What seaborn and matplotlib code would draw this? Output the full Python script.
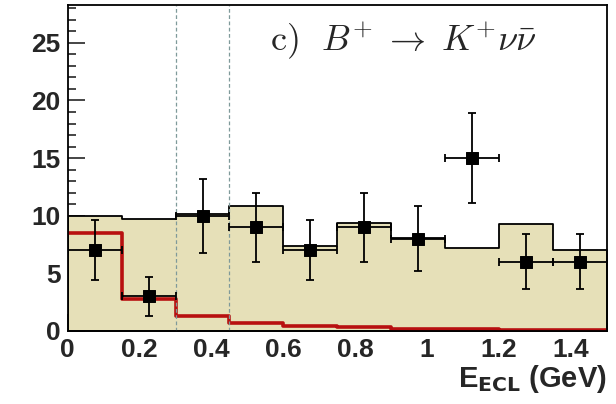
import numpy as np
import pandas as pd
import matplotlib
matplotlib.use("Agg")
import matplotlib.pyplot as plt
import seaborn as sns
from matplotlib.ticker import MultipleLocator

# E_ECL binning (GeV)
bin_edges = [0.0, 0.15, 0.30, 0.45, 0.60, 0.75, 0.90, 1.05, 1.20, 1.35, 1.50]
bin_centers = [0.075, 0.225, 0.375, 0.525, 0.675, 0.825, 0.975, 1.125, 1.275, 1.425]

# background expectation (filled histogram)
bkg_counts = [10.0, 9.7, 10.15, 10.8, 7.4, 9.4, 8.1, 7.2, 9.3, 7.05]
# signal shape (red line)
sig_counts = [8.5, 2.8, 1.3, 0.7, 0.4, 0.3, 0.2, 0.15, 0.1, 0.1]
# data
data_counts = [7, 3, 10, 9, 7, 9, 8, 15, 6, 6]
data_yerr = [2.6, 1.7, 3.2, 3.0, 2.6, 3.0, 2.8, 3.9, 2.4, 2.4]
data_xerr = [0.075] * 10

cut_lines = [0.30, 0.45]

df = pd.DataFrame({"x": bin_centers, "bkg": bkg_counts, "sig": sig_counts})

sns.set_style("ticks")
plt.rcParams["font.family"] = ["Liberation Sans", "DejaVu Sans"]
plt.rcParams["mathtext.fontset"] = "cm"

fig = plt.figure(figsize=(6.16, 4.04), dpi=100)
ax = fig.add_axes([0.110, 0.181, 0.875, 0.807])

sns.histplot(data=df, x="x", weights="bkg", bins=bin_edges, element="step",
             fill=True, color="#e6e0b8", alpha=1.0, edgecolor="black",
             linewidth=1.3, ax=ax)
sns.histplot(data=df, x="x", weights="sig", bins=bin_edges, element="step",
             fill=False, color="#b81010", linewidth=2.6, ax=ax)

for xc in cut_lines:
    ax.axvline(xc, color="#7f9a9a", linestyle=(0, (3, 2)), linewidth=0.9)

ax.errorbar(bin_centers, data_counts, yerr=data_yerr, xerr=data_xerr,
            fmt="none", ecolor="black", elinewidth=1.3, capsize=3, capthick=1.3)
sns.scatterplot(x=bin_centers, y=data_counts, marker="s", color="black",
                s=75, edgecolor="black", ax=ax, zorder=5)

ax.set_xlim(0, 1.5)
ax.set_ylim(0, 28.3)
ax.xaxis.set_major_locator(MultipleLocator(0.2))
ax.xaxis.set_minor_locator(MultipleLocator(0.05))
ax.yaxis.set_major_locator(MultipleLocator(5))
ax.yaxis.set_minor_locator(MultipleLocator(1))
ax.xaxis.set_major_formatter(plt.FuncFormatter(lambda v, p: f"{v:g}"))
ax.tick_params(which="both", direction="in", top=False, right=False,
               labelsize=19, width=1.2)
ax.tick_params(which="major", length=12, pad=5)
ax.tick_params(which="minor", length=6)
for lab in ax.get_xticklabels() + ax.get_yticklabels():
    lab.set_fontweight("bold")
for sp in ax.spines.values():
    sp.set_linewidth(1.3)
    sp.set_color("black")

ax.set_ylabel("")
ax.set_xlabel(r"E$_{\mathbf{ECL}}$ (GeV)", loc="right", fontsize=21,
              fontweight="bold", labelpad=1, math_fontfamily="dejavusans")
ax.text(0.375, 0.862,
        r"$\mathrm{c)}\ \ B^{+}\;\rightarrow\;K^{+}\nu\bar{\nu}$",
        transform=ax.transAxes, fontsize=26, math_fontfamily="cm")

fig.savefig("out.png", dpi=100)
